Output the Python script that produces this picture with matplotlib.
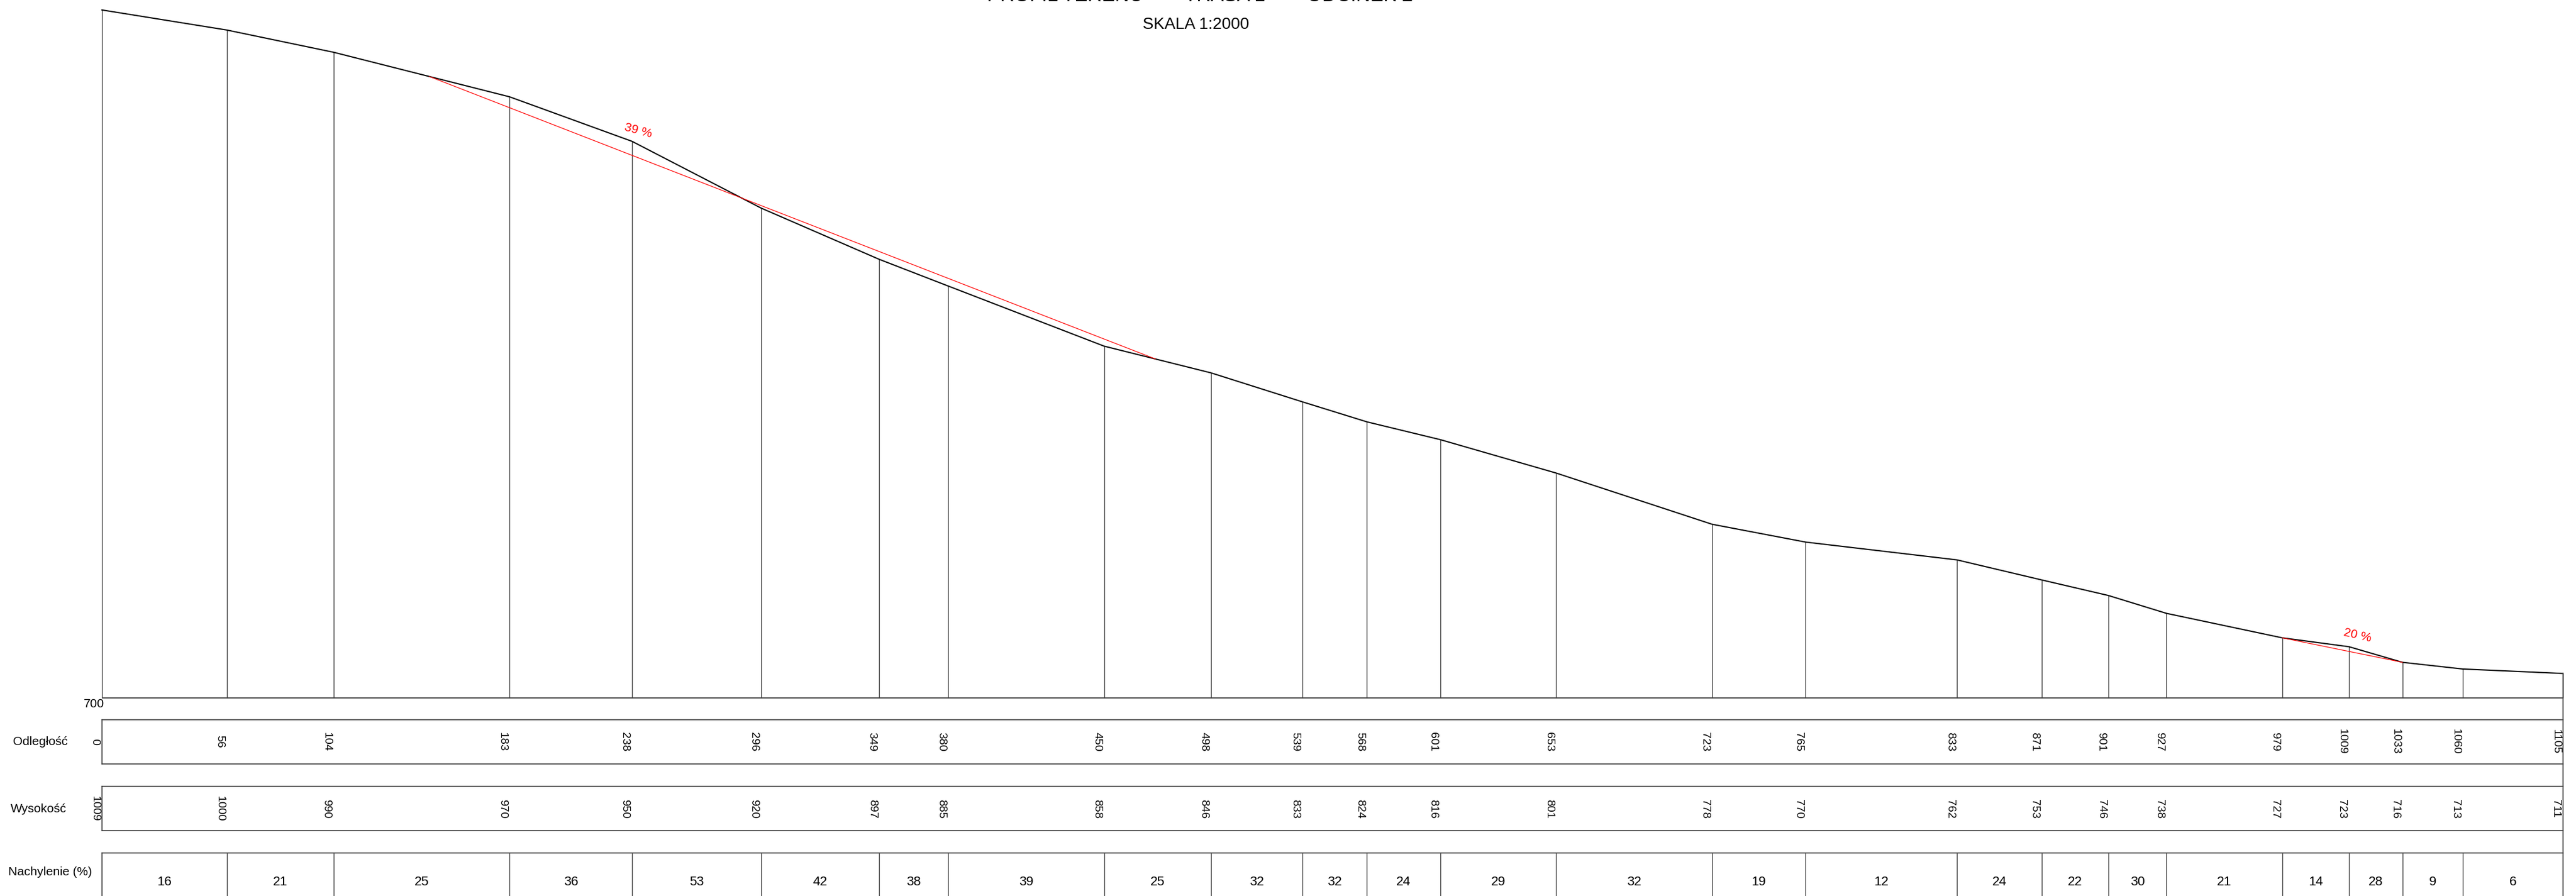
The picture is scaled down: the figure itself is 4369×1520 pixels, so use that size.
import numpy as np
import matplotlib
matplotlib.use("Agg")
import matplotlib.pyplot as plt
from matplotlib import font_manager as fm

# ---------------- data ----------------
distances = [0, 56, 104, 183, 238, 296, 349, 380, 450, 498, 539, 568, 601, 653,
             723, 765, 833, 871, 901, 927, 979, 1009, 1033, 1060, 1105]
elevations = [1009, 1000, 990, 970, 950, 920, 897, 885, 858, 846, 833, 824, 816,
              801, 778, 770, 762, 753, 746, 738, 727, 723, 716, 713, 711]
slopes = [16, 21, 25, 36, 53, 42, 38, 39, 25, 32, 32, 24, 29, 32, 19, 12, 24, 22,
          30, 21, 14, 28, 9, 6]
row_labels = ["Odległość", "Wysokość", "Nachylenie (%)"]
datum = 700
scale_text = "SKALA 1:2000"
title_text = "PROFIL TERENU  —  TRASA 1  —  ODCINEK 2"
grade_starts = [147, 979]
grade_ends = [473, 1033]
grade_labels = ["39 %", "20 %"]
grade_label_dist = [240.7, 1012.7]

# ---------------- layout ----------------
W, H = 4369, 1520
K = 3.777            # pixels per metre (1:2000, equal in x and y)
X0 = 173             # pixel of distance 0
Y_DATUM = 1184       # pixel row of datum line


def ey(py):
    return datum + (Y_DATUM - py) / K


def ex(px):
    return (px - X0) / K


avail = {f.name for f in fm.fontManager.ttflist}


def pick(*names):
    for n in names:
        if n in avail:
            return n
    return "DejaVu Sans"


SANS = pick("Liberation Sans", "Arimo", "DejaVu Sans")
NARROW = pick("Liberation Sans Narrow", "Liberation Sans", "DejaVu Sans")

fig = plt.figure(figsize=(W / 100, H / 100), dpi=100)
ax = fig.add_axes([0, 0, 1, 1])
ax.set_xlim(ex(0), ex(W))
ax.set_ylim(ey(H), ey(0))
ax.axis("off")

d = np.array(distances, float)
e = np.array(elevations, float)
xmax = d[-1]

line_col = "#3a3a3a"
# station verticals
ax.vlines(d, datum, e, colors=line_col, lw=1.0)
# profile
ax.plot(d, e, color="black", lw=1.5, solid_joinstyle="miter")
# datum line
ax.hlines(datum, 0, xmax, colors=line_col, lw=1.3)
ax.text(ex(159), ey(1194), str(datum), ha="center", va="center",
        fontsize=15, family=SANS)

# grade lines
grade_rot = [-15, -13]
for gs, ge, lab, ld, rot in zip(grade_starts, grade_ends, grade_labels,
                                grade_label_dist, grade_rot):
    ys = np.interp([gs, ge], d, e)
    ax.plot([gs, ge], ys, color="#ff0000", lw=0.9)
    ly = np.interp(ld, d, e) + 6.2
    ax.text(ld, ly, lab, color="#ff0000", ha="center", va="center",
            rotation=rot, fontsize=15, family=SANS)

# table rows
rows = [(1221, 1296), (1334, 1409), (1447, 1600)]
for (t, b) in rows:
    yt, yb = ey(t), ey(b)
    ax.plot([0, xmax], [yt, yt], color=line_col, lw=1.2)
    if b < H:
        ax.plot([0, xmax], [yb, yb], color=line_col, lw=1.2)
    ax.plot([0, 0], [yt, yb], color=line_col, lw=1.2)
    ax.plot([xmax, xmax], [yt, yb], color=line_col, lw=1.2)
# right border continuous
ax.plot([xmax, xmax], [e[-1], ey(1221)], color=line_col, lw=1.2)
ax.plot([xmax, xmax], [ey(1296), ey(1334)], color=line_col, lw=1.2)
ax.plot([xmax, xmax], [ey(1409), ey(1447)], color=line_col, lw=1.2)

# row labels
label_x = [68, 65, 85]
label_y = [1259, 1372, 1479]
for lab, lx, ly in zip(row_labels, label_x, label_y):
    ax.text(ex(lx), ey(ly), lab, ha="center", va="center", fontsize=15,
            family=SANS)

# distance & elevation rows (rotated numbers)
off = 12 / K
for di, ei in zip(distances, elevations):
    ax.text(di - off, ey(1258), str(di), rotation=-90, ha="center",
            va="center", fontsize=14, family=SANS)
    ax.text(di - off, ey(1372), str(ei), rotation=-90, ha="center",
            va="center", fontsize=14, family=SANS)

# slope row
ax.vlines(d[1:-1], ey(1520) - 5, ey(1447), colors=line_col, lw=1.0)
mids = (d[:-1] + d[1:]) / 2
for m, s in zip(mids, slopes):
    ax.text(m, ey(1497), str(s), ha="center", va="center", fontsize=16,
            family=NARROW)

# titles
ax.text(ex(2028), ey(42), scale_text, ha="center", va="center",
        fontsize=20, family=NARROW)
ax.text(ex(2035), ey(1.5), title_text, ha="center", va="baseline",
        fontsize=24, family=NARROW)

fig.savefig("out.png", dpi=100, facecolor="white")
